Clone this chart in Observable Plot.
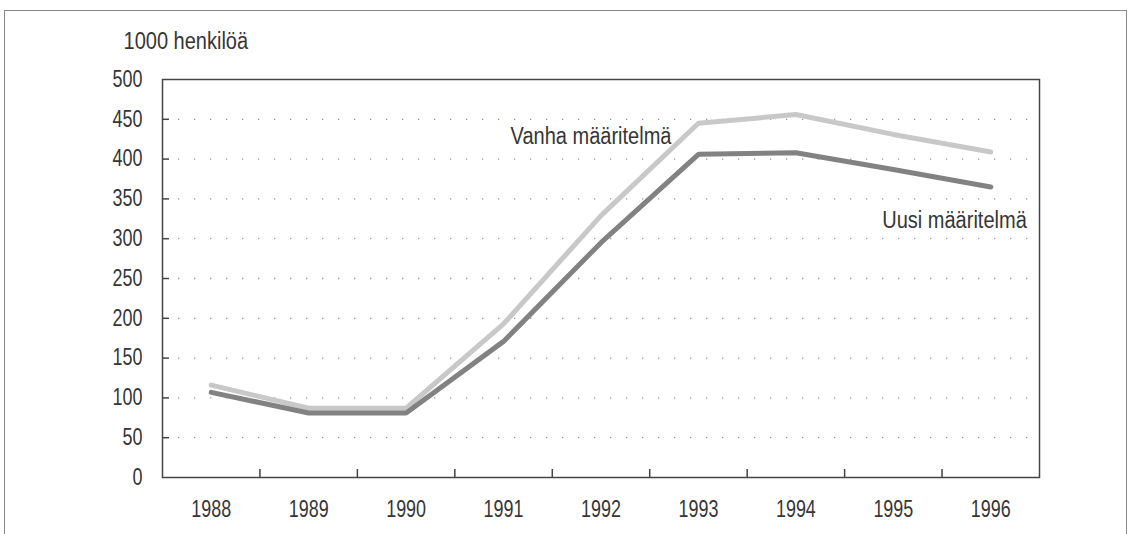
<!DOCTYPE html>
<html>
<head>
<meta charset="utf-8">
<script src="https://cdn.jsdelivr.net/npm/d3@7"></script>
<script src="https://cdn.jsdelivr.net/npm/@observablehq/plot@0.6"></script>
<style>
  html, body { margin: 0; padding: 0; background: #fff; overflow: hidden; }
  #wrap { position: relative; width: 1130px; height: 534px; }
  #outer { position: absolute; left: 4px; top: 10px; width: 1123px; height: 540px; border: 1.5px solid #888; box-sizing: border-box; }
  #chart { position: absolute; left: 0; top: 0; }
</style>
</head>
<body>
<div id="wrap">
  <div id="outer"></div>
  <div id="chart"></div>
</div>
<script>
const years = [1988, 1989, 1990, 1991, 1992, 1993, 1994, 1995, 1996];
const vanha = [116, 87, 87, 193, 329, 445, 456, 431, 409];
const uusi  = [107, 81, 81, 171, 295, 406, 408, 387, 365];
const yTicks = [0, 50, 100, 150, 200, 250, 300, 350, 400, 450, 500];
const gridValues = [50, 100, 150, 200, 250, 300, 350, 400, 450];
const xTickMarks = years.slice(0, -1).map(y => y + 0.5);
const yUnit = "1000 henkilöä";
const seriesNames = ["Vanha määritelmä", "Uusi määritelmä"];

const rows = [];
years.forEach((y, i) => {
  rows.push({year: y, value: vanha[i], series: seriesNames[0]});
  rows.push({year: y, value: uusi[i], series: seriesNames[1]});
});

const font = "'Liberation Sans', Arial, sans-serif";
const textColor = "#363636";
const fs = 23;

const chart = Plot.plot({
  width: 1130,
  height: 534,
  marginLeft: 162,
  marginRight: 91,
  marginTop: 79,
  marginBottom: 57,
  style: {fontFamily: font, fontSize: fs + "px", color: textColor, background: "transparent"},
  x: {domain: [1987.5, 1996.5], axis: null},
  y: {domain: [0, 500], axis: null},
  marks: [
    Plot.ruleY(gridValues, {stroke: "#999", strokeWidth: 1.3, strokeDasharray: "1.3,14.7"}),
    Plot.tickY(yTicks.slice(1, -1), {y: d => d, stroke: "#444", strokeWidth: 1.5, insetRight: 870}),
    Plot.tickX(xTickMarks, {x: d => d, stroke: "#444", strokeWidth: 1.5, insetTop: 390}),
    Plot.axisY(yTicks, {anchor: "left", tickSize: 0, tickPadding: 20, label: null, fontSize: fs, fill: textColor}),
    Plot.axisX(years, {anchor: "bottom", tickSize: 0, tickPadding: 23, label: null, tickFormat: d => String(d), fontSize: fs, fill: textColor}),
    Plot.line(rows.filter(d => d.series === seriesNames[0]), {x: "year", y: "value", stroke: "#c8c8c8", strokeWidth: 5}),
    Plot.line(rows.filter(d => d.series === seriesNames[1]), {x: "year", y: "value", stroke: "#828282", strokeWidth: 5}),
    Plot.frame({stroke: "#444", strokeWidth: 1.5}),
    Plot.text([yUnit], {frameAnchor: "top-left", text: d => d, textAnchor: "start", lineAnchor: "middle", dx: -39, dy: -38, fontSize: fs, fill: textColor}),
    Plot.text([{year: years[5], value: vanha[5], label: seriesNames[0]}], {x: "year", y: "value", text: "label", textAnchor: "end", lineAnchor: "middle", dx: -27, dy: 13, fontSize: fs, fill: textColor}),
    Plot.text([{year: years[8], value: uusi[8], label: seriesNames[1]}], {x: "year", y: "value", text: "label", textAnchor: "end", lineAnchor: "middle", dx: 36, dy: 34, fontSize: fs, fill: textColor})
  ]
});
document.getElementById("chart").appendChild(chart);
// condense glyphs to imitate the narrow typeface of the original
chart.querySelectorAll("text").forEach(t => {
  const len = t.getComputedTextLength();
  if (len > 0) {
    const numeric = /^[0-9]+$/.test(t.textContent.trim());
    t.setAttribute("textLength", (len * (numeric ? 0.78 : 0.87)).toFixed(1));
    t.setAttribute("lengthAdjust", "spacingAndGlyphs");
  }
});
</script>
</body>
</html>
